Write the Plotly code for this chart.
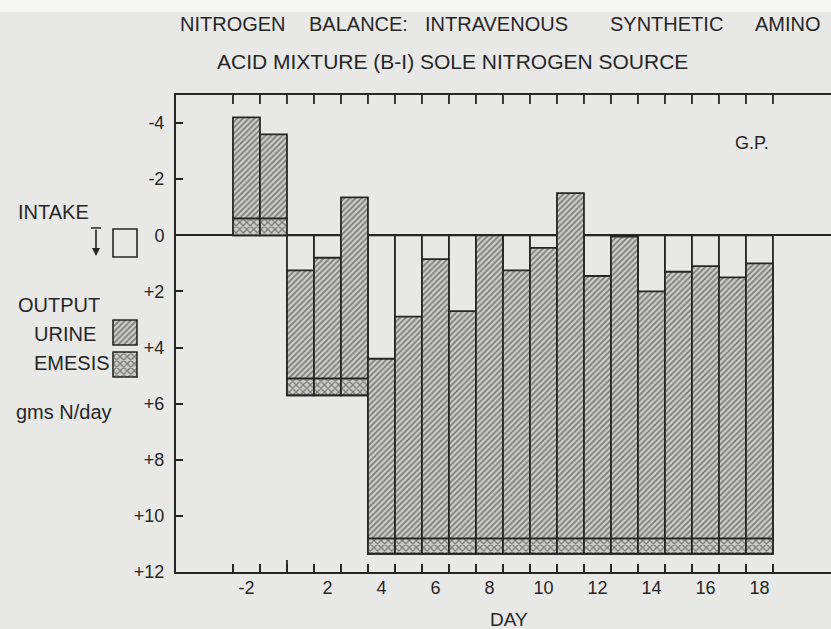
import plotly.graph_objects as go

# ---------------- data (gms N/day) ----------------
days = [-2, -1, 1, 2, 3, 4, 5, 6, 7, 8, 9, 10, 11, 12, 13, 14, 15, 16, 17, 18]
intake = [0, 0, 5.7, 5.7, 5.7, 11.35, 11.35, 11.35, 11.35, 11.35, 11.35, 11.35,
          11.35, 11.35, 11.35, 11.35, 11.35, 11.35, 11.35, 11.35]
emesis = [0.6, 0.6, 0.6, 0.6, 0.6, 0.55, 0.55, 0.55, 0.55, 0.55, 0.55, 0.55,
          0.55, 0.55, 0.55, 0.55, 0.55, 0.55, 0.55, 0.55]
urine = [3.6, 3.0, 3.85, 4.3, 6.45, 6.4, 7.9, 9.95, 8.1, 10.8, 9.55, 10.35,
         12.3, 9.35, 10.75, 8.8, 9.5, 9.7, 9.3, 9.8]
x_tick_days = [-2, 2, 4, 6, 8, 10, 12, 14, 16, 18]
x_tick_labels = ["-2", "2", "4", "6", "8", "10", "12", "14", "16", "18"]
y_tick_vals = [-4, -2, 0, 2, 4, 6, 8, 10, 12]
y_tick_labels = ["-4", "-2", "0", "+2", "+4", "+6", "+8", "+10", "+12"]

# ---------------- style ----------------
W, H = 831, 629
ML, MT, MB = 176, 95, 57
PLOT_H = H - MT - MB
BG = "#e8e8e6"
INK = "#262626"
HATCH_BG = "#cdcdcb"
FONT = "Liberation Sans, Arial, sans-serif"
X_RANGE = [-4.11, 20.15]
Y_RANGE = [12, -5]


def pos(d):
    # there is no day 0: day -1 and day 1 sit either side of the boundary
    return d - 0.5 if d > 0 else d + 0.5


xpos = [pos(d) for d in days]
urine_base = [i - e for i, e in zip(intake, emesis)]
boundaries = list(range(-2, 19))


def px(x):
    return x / W


def py(y):
    return (H - MB - y) / PLOT_H


def xdata_to_paper(v):
    frac = (v - X_RANGE[0]) / (X_RANGE[1] - X_RANGE[0])
    return ML / W + frac * (1 - ML / W)


urine_pattern = dict(shape="/", fgcolor=INK, bgcolor=HATCH_BG, size=4, solidity=0.42)
emesis_pattern = dict(shape="x", fgcolor=INK, bgcolor=HATCH_BG, size=5, solidity=0.45)
edge = dict(color=INK, width=1.8)

fig = go.Figure()

# intake (open box drawn downward from zero)
fig.add_trace(go.Bar(x=xpos, y=intake, base=[0] * len(days), width=1,
                     marker=dict(color=BG, line=edge), showlegend=False,
                     hoverinfo="skip"))
# emesis (drawn upward from bottom of intake)
fig.add_trace(go.Bar(x=xpos, y=[-e for e in emesis], base=intake, width=1,
                     marker=dict(color=HATCH_BG, pattern=emesis_pattern, line=edge),
                     showlegend=False, hoverinfo="skip"))
# urine (stacked above emesis)
fig.add_trace(go.Bar(x=xpos, y=[-u for u in urine], base=urine_base, width=1,
                     marker=dict(color=HATCH_BG, pattern=urine_pattern, line=edge),
                     showlegend=False, hoverinfo="skip"))

# invisible carrier so the day-label axis is drawn
fig.add_trace(go.Scatter(x=[xpos[0]], y=[0], xaxis="x3", yaxis="y", mode="markers",
                         marker=dict(opacity=0), showlegend=False, hoverinfo="skip"))

# ---- legend key swatches on an auxiliary axis in the left margin ----
fig.add_trace(go.Bar(x=[125], y=[25], base=[320], width=[24], xaxis="x2", yaxis="y2",
                     marker=dict(color=HATCH_BG, pattern=urine_pattern,
                                 line=dict(color=INK, width=1.6)),
                     showlegend=False, hoverinfo="skip"))
fig.add_trace(go.Bar(x=[125], y=[25], base=[352], width=[24], xaxis="x2", yaxis="y2",
                     marker=dict(color=HATCH_BG, pattern=emesis_pattern,
                                 line=dict(color=INK, width=1.6)),
                     showlegend=False, hoverinfo="skip"))

fig.update_layout(
    width=W, height=H,
    margin=dict(l=0, r=0, t=MT, b=MB),
    paper_bgcolor=BG, plot_bgcolor=BG,
    barmode="overlay",
    font=dict(family=FONT, color=INK, size=17),
    xaxis=dict(
        domain=[ML / W, 1], range=X_RANGE,
        tickmode="array", tickvals=boundaries, showticklabels=False,
        ticks="inside", ticklen=8, tickwidth=1.8, tickcolor=INK,
        showgrid=False, zeroline=False,
        showline=True, linecolor=INK, linewidth=2, mirror=True,
    ),
    xaxis3=dict(
        overlaying="x", anchor="y", side="bottom", range=X_RANGE,
        tickmode="array", tickvals=[pos(d) for d in x_tick_days], ticktext=x_tick_labels,
        ticks="", showgrid=False, zeroline=False, showline=False,
        tickfont=dict(size=18), ticklabelstandoff=3,
    ),
    yaxis=dict(
        range=Y_RANGE, tickmode="array", tickvals=y_tick_vals, ticktext=y_tick_labels,
        ticks="inside", ticklen=7, tickwidth=1.8, tickcolor=INK,
        showgrid=False, showline=True, linecolor=INK, linewidth=2,
        zeroline=True, zerolinecolor=INK, zerolinewidth=2,
        tickfont=dict(size=18), ticklabelstandoff=6,
    ),
    xaxis2=dict(domain=[0, ML / W - 0.01], range=[0, ML - W * 0.01], visible=False,
                fixedrange=True),
    yaxis2=dict(domain=[0, 1], range=[H - MB, MT], visible=False, anchor="x2",
                fixedrange=True),
    showlegend=False,
)

# tick marks hanging from the top frame at every day boundary (paper coordinates)
for b in boundaries:
    xp = xdata_to_paper(b)
    fig.add_shape(type="line", xref="paper", yref="paper", x0=xp, x1=xp,
                  y0=py(MT), y1=py(MT + 9), line=dict(color=INK, width=1.8),
                  layer="above")
# longer tick at the -1/1 boundary on the bottom axis
x0p = xdata_to_paper(0)
fig.add_shape(type="line", xref="paper", yref="paper", x0=x0p, x1=x0p,
              y0=py(H - MB), y1=py(H - MB - 12), line=dict(color=INK, width=1.8),
              layer="above")

# whiter strip at the very top of the scan
fig.add_shape(type="rect", xref="paper", yref="paper", x0=0, x1=1, y0=py(12), y1=py(0),
              fillcolor="#f6f6f5", line=dict(width=0), layer="below")

# intake legend key: open box and T-arrow
fig.add_shape(type="rect", xref="x2", yref="y2", x0=113, x1=137, y0=229, y1=257,
              line=dict(color=INK, width=1.6), fillcolor=BG)
fig.add_shape(type="line", xref="x2", yref="y2", x0=91, x1=101, y0=228, y1=228,
              line=dict(color=INK, width=1.6))
fig.add_annotation(x=96, y=256, ax=96, ay=228, xref="x2", yref="y2", axref="x2", ayref="y2",
                   showarrow=True, arrowhead=2, arrowsize=1, arrowwidth=1.6,
                   arrowcolor=INK, text="")

# ---- text ----
def label(text, x, y, size, anchor="left"):
    fig.add_annotation(text=text, x=px(x), y=py(y), xref="paper", yref="paper",
                       xanchor=anchor, yanchor="middle", showarrow=False,
                       font=dict(size=size, color=INK, family=FONT))


title_words = [("NITROGEN", 178), ("BALANCE:", 307), ("INTRAVENOUS", 423),
               ("SYNTHETIC", 608), ("AMINO", 753)]
for w, x in title_words:
    label(w, x, 24, 20)
label("ACID MIXTURE (B-I) SOLE NITROGEN SOURCE", 215, 61, 21)

label("INTAKE", 16, 212, 20)
label("OUTPUT", 16, 305, 20)
label("URINE", 32, 334, 20)
label("EMESIS", 32, 363, 20)
label("gms N/day", 14, 412, 20)
label("G.P.", 752, 143, 18, anchor="center")
label("DAY", 509, 619, 19, anchor="center")

fig.write_html("out.html", config={"displayModeBar": False},
               post_script="document.body.style.margin='0';")
